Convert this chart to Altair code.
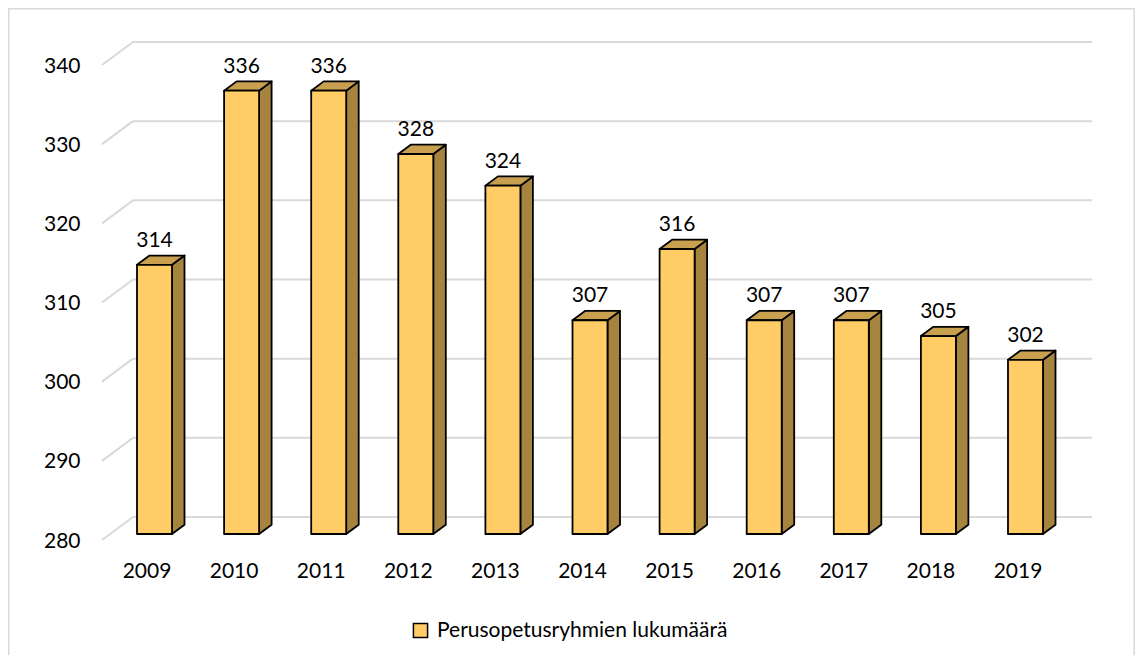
import altair as alt
import pandas as pd

# ---- data ----
years = [2009, 2010, 2011, 2012, 2013, 2014, 2015, 2016, 2017, 2018, 2019]
values = [314, 336, 336, 328, 324, 307, 316, 307, 307, 305, 302]
y_ticks = [280, 290, 300, 310, 320, 330, 340]
series_name = "Perusopetusryhmien lukumäärä"

# ---- layout / style constants ----
W, H = 990, 475
Y_MIN, Y_MAX = 280, 340
FIRST_X, STEP = 52.5, 87.1   # pixel position of first bar centre, spacing
HALF = 17.5                  # half width of bar front face (px)
DX, DY = 12.5, 9.3           # depth offset of bars (px)
BACK_DX, BACK_DY = 31, 23    # depth of floor/back wall (px)
FRONT_DY = 6                 # front plane below bar base (px)
FONT = "Lato"
FS = 21
FRONT_C, TOP_C, SIDE_C = "#FFCC66", "#C9A050", "#A6833F"
GRID_C = "#D9D9D9"

ppy = STEP
x_min = years[0] - FIRST_X / STEP
x_max = x_min + W / STEP
ppu = H / (Y_MAX - Y_MIN)
ddx, ddy = DX / ppy, DY / ppu

bars = pd.DataFrame({"year": years, "value": values})
bars["xl"] = bars["year"] - HALF / ppy
bars["xr"] = bars["year"] + HALF / ppy
bars["series"] = series_name

side_rows, top_rows = [], []
for yr, v in zip(years, values):
    xl, xr = yr - HALF / ppy, yr + HALF / ppy
    side_rows.append({"year": yr, "x": xr, "y": v, "y2": Y_MIN})
    side_rows.append({"year": yr, "x": xr + ddx, "y": v + ddy, "y2": Y_MIN + ddy})
    top_rows.append({"year": yr, "y": v, "x": xl, "x2": xr})
    top_rows.append({"year": yr, "y": v + ddy, "x": xl + ddx, "x2": xr + ddx})
side = pd.DataFrame(side_rows)
top = pd.DataFrame(top_rows)
grid = pd.DataFrame({"v": y_ticks})

xs = alt.Scale(domain=[x_min, x_max], nice=False, zero=False)
ys = alt.Scale(domain=[Y_MIN, Y_MAX], nice=False, zero=False)

x_axis = alt.Axis(values=years, format="d", title=None, grid=False, ticks=False,
                  domain=False, labelOffset=-8, labelPadding=26,
                  labelFont=FONT, labelFontSize=FS, labelColor="#000000")
y_axis = alt.Axis(values=y_ticks, title=None, grid=False, ticks=False,
                  domain=False, labelOffset=7, labelPadding=22,
                  labelFont=FONT, labelFontSize=FS, labelColor="#000000")

# border of the chart area
border = alt.Chart(pd.DataFrame({"a": [0]})).mark_rect(
    fillOpacity=0, stroke=GRID_C, strokeWidth=1.5
).encode(x=alt.value(-93.2), x2=alt.value(1032.2), y=alt.value(-50.2), y2=alt.value(640))

grid_slant = alt.Chart(grid).mark_rule(
    color=GRID_C, strokeWidth=2, yOffset=FRONT_DY, y2Offset=FRONT_DY - BACK_DY
).encode(
    x=alt.value(0), x2=alt.value(BACK_DX),
    y=alt.Y("v:Q", scale=ys, axis=y_axis), y2="v:Q"
)
grid_flat = alt.Chart(grid).mark_rule(
    color=GRID_C, strokeWidth=2, yOffset=FRONT_DY - BACK_DY, y2Offset=FRONT_DY - BACK_DY
).encode(
    x=alt.value(BACK_DX), x2=alt.value(W),
    y=alt.Y("v:Q", scale=ys, axis=y_axis), y2="v:Q"
)

side_face = alt.Chart(side).mark_area(
    orient="vertical", color=SIDE_C, stroke="#000000", strokeWidth=1.8, strokeJoin="round"
).encode(
    x=alt.X("x:Q", scale=xs, axis=x_axis),
    y=alt.Y("y:Q", scale=ys, axis=y_axis), y2="y2:Q",
    detail="year:N"
)
top_face = alt.Chart(top).mark_area(
    orient="horizontal", color=TOP_C, stroke="#000000", strokeWidth=1.8, strokeJoin="round"
).encode(
    y=alt.Y("y:Q", scale=ys, axis=y_axis),
    x=alt.X("x:Q", scale=xs, axis=x_axis), x2="x2:Q",
    detail="year:N"
)
front = alt.Chart(bars).mark_rect(
    stroke="#000000", strokeWidth=1.8, strokeJoin="round"
).encode(
    x=alt.X("xl:Q", scale=xs, axis=x_axis), x2="xr:Q",
    y=alt.Y("value:Q", scale=ys, axis=y_axis), y2=alt.datum(Y_MIN),
    color=alt.Color("series:N",
                    scale=alt.Scale(domain=[series_name], range=[FRONT_C]),
                    legend=alt.Legend(title=None, orient="none", legendX=308, legendY=561,
                                      symbolType="square", symbolSize=200,
                                      symbolStrokeColor="#000000", symbolStrokeWidth=1.5,
                                      labelFont=FONT, labelFontSize=FS, labelColor="#000000",
                                      labelOffset=6, labelLimit=0, padding=0))
)
labels = alt.Chart(bars).mark_text(
    font=FONT, fontSize=FS, color="#000000", baseline="alphabetic", dy=-18
).encode(
    x=alt.X("year:Q", scale=xs, axis=x_axis),
    y=alt.Y("value:Q", scale=ys, axis=y_axis),
    text=alt.Text("value:Q", format="d")
)

chart = alt.layer(border, grid_slant, grid_flat, side_face, top_face, front, labels).properties(
    width=W, height=H,
    autosize=alt.AutoSizeParams(type="none"),
    padding={"left": 94, "top": 51, "right": 43, "bottom": 121},
    background="#FFFFFF"
).configure_view(stroke=None)

chart.save("out.html", embed_options={"renderer": "svg", "actions": False})
